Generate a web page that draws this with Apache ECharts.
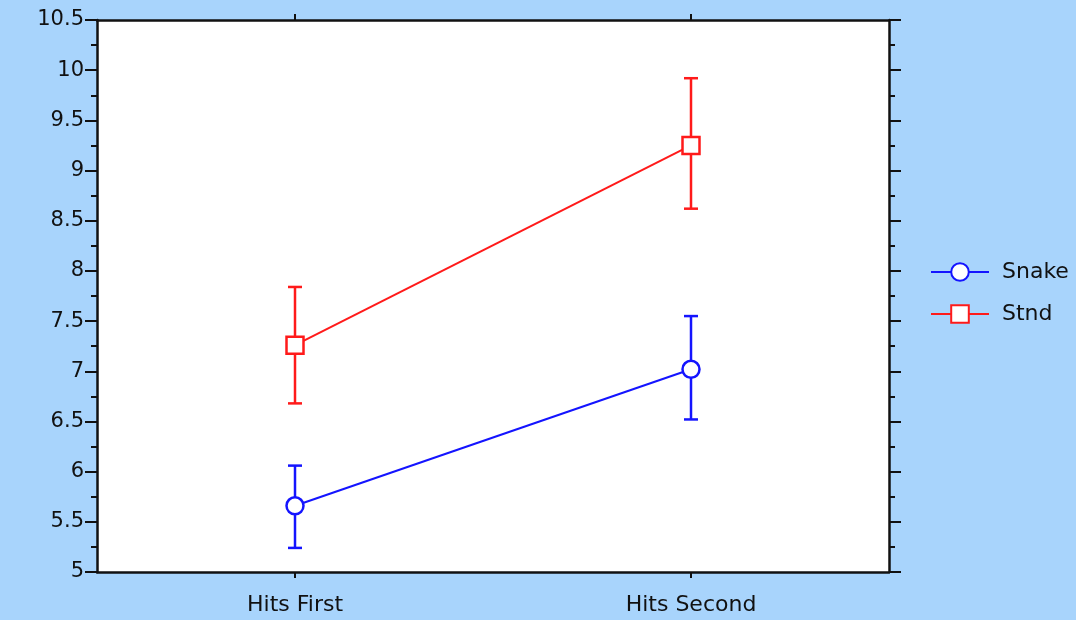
<!DOCTYPE html>
<html>
<head>
<meta charset="utf-8">
<script src="https://cdn.jsdelivr.net/npm/echarts@6/dist/echarts.min.js"></script>
<style>
html,body{margin:0;padding:0;background:#a8d4fc;}
#c{width:1076px;height:620px;}
</style>
</head>
<body>
<div id="c"></div>
<script>
var categories = ['Hits First', 'Hits Second'];
var snakeMean = [5.66, 7.02];
var snakeLow = [5.24, 6.52];
var snakeHigh = [6.06, 7.55];
var stndMean = [7.26, 9.25];
var stndLow = [6.68, 8.62];
var stndHigh = [7.84, 9.92];
var yTicks = [5, 5.5, 6, 6.5, 7, 7.5, 8, 8.5, 9, 9.5, 10, 10.5];

var blue = '#1414ff';
var red = '#ff1a1a';
var font = 'DejaVu Sans';

function errData(lo, hi) {
  return categories.map(function (c, i) { return [i, lo[i], hi[i]]; });
}
function errRender(color) {
  return function (params, api) {
    var x = api.value(0);
    var lo = api.coord([x, api.value(1)]);
    var hi = api.coord([x, api.value(2)]);
    var hw = 7;
    var st = { stroke: color, lineWidth: 2.5, fill: null };
    return {
      type: 'group',
      children: [
        { type: 'line', shape: { x1: lo[0], y1: lo[1], x2: hi[0], y2: hi[1] }, style: st },
        { type: 'line', shape: { x1: lo[0] - hw, y1: lo[1], x2: lo[0] + hw, y2: lo[1] }, style: st },
        { type: 'line', shape: { x1: hi[0] - hw, y1: hi[1], x2: hi[0] + hw, y2: hi[1] }, style: st }
      ]
    };
  };
}

var axisLine = { show: true, lineStyle: { color: '#111', width: 2.5 } };
var chart = echarts.init(document.getElementById('c'));
chart.setOption({
  backgroundColor: '#a8d4fc',
  animation: false,
  grid: { left: 97, top: 20, width: 792, height: 552, show: true, backgroundColor: '#ffffff', borderWidth: 0 },
  legend: {
    left: 925, top: 256, orient: 'vertical',
    itemWidth: 58, itemHeight: 22, itemGap: 20,
    lineStyle: { width: 2 },
    textStyle: { fontFamily: font, fontSize: 22, color: '#111', lineHeight: 22, padding: [0, 0, 0, 8] },
    data: ['Snake', 'Stnd']
  },
  xAxis: [
    {
      type: 'category', data: categories, position: 'bottom', boundaryGap: true,
      axisLine: axisLine,
      axisTick: { show: true, alignWithLabel: true, length: 6, lineStyle: { color: '#111', width: 2 } },
      axisLabel: { fontFamily: font, fontSize: 22, color: '#111', margin: 22 },
      splitLine: { show: false }
    },
    {
      type: 'category', data: categories, position: 'top', boundaryGap: true,
      axisLine: axisLine,
      axisTick: { show: true, alignWithLabel: true, length: 6, lineStyle: { color: '#111', width: 2 } },
      axisLabel: { show: false },
      splitLine: { show: false }
    }
  ],
  yAxis: [
    {
      type: 'value', min: yTicks[0], max: yTicks[yTicks.length - 1], interval: 0.5, position: 'left',
      axisLine: axisLine,
      axisTick: { show: true, length: 12, lineStyle: { color: '#111', width: 2 } },
      minorTick: { show: true, splitNumber: 2, length: 6, lineStyle: { color: '#111', width: 2 } },
      axisLabel: { fontFamily: font, fontSize: 21, color: '#111', margin: 13 },
      splitLine: { show: false }
    },
    {
      type: 'value', min: yTicks[0], max: yTicks[yTicks.length - 1], interval: 0.5, position: 'right',
      axisLine: axisLine,
      axisTick: { show: true, length: 12, lineStyle: { color: '#111', width: 2 } },
      minorTick: { show: true, splitNumber: 2, length: 6, lineStyle: { color: '#111', width: 2 } },
      axisLabel: { show: false },
      splitLine: { show: false }
    }
  ],
  series: [
    {
      name: 'Snake', type: 'line', data: snakeMean, symbol: 'circle', symbolSize: 17,
      lineStyle: { color: blue, width: 2 },
      itemStyle: { color: '#ffffff', borderColor: blue, borderWidth: 2.5 },
      z: 5
    },
    {
      name: 'Stnd', type: 'line', data: stndMean, symbol: 'rect', symbolSize: 17,
      lineStyle: { color: red, width: 2 },
      itemStyle: { color: '#ffffff', borderColor: red, borderWidth: 2.5 },
      z: 5
    },
    { type: 'custom', data: errData(snakeLow, snakeHigh), renderItem: errRender(blue), z: 3, silent: true },
    { type: 'custom', data: errData(stndLow, stndHigh), renderItem: errRender(red), z: 3, silent: true }
  ]
});
</script>
</body>
</html>
